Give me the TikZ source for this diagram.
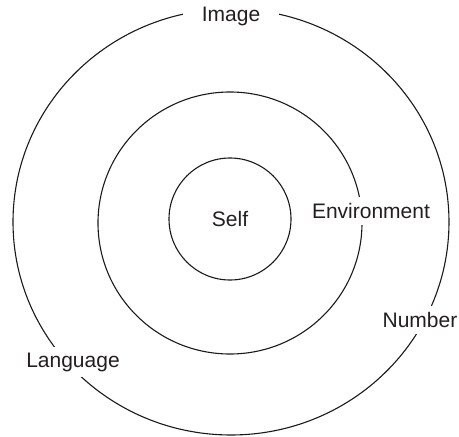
\documentclass[tikz,border=0pt]{standalone}
\usepackage{fontspec}
\setmainfont{Liberation Sans}
\definecolor{cRing}{HTML}{1A1A1A}
\definecolor{cText}{HTML}{231F20}

\begin{document}
\begin{tikzpicture}[
  x=1pt, y=-1pt,
  font=\fontsize{21}{25}\selectfont,
  ring/.style={draw=cRing, line width=1.1pt},
  ringlabel/.style={fill=white, text=cText, inner xsep=7pt, inner ysep=6pt},
]
\useasboundingbox (0,0) rectangle (459,437);

% --- rings, outermost first ---
\draw[ring] (231,222) ellipse [x radius=218, y radius=213];
\draw[ring] (230,223) ellipse [x radius=132, y radius=131];
\node[ring, circle, minimum size=122pt, inner sep=0pt, text=cText] (self)
  at (230,219) {Self};

% Labels sit on the rings and break them (white fill).
\node[ringlabel, inner xsep=19pt] (image) at (231,16) {Image};
\node[ringlabel] (environment) at (371,211) {Environment};
\node[ringlabel] (number) at (420,320) {Number};
\node[ringlabel] (language) at (73,362) {Language};

\end{tikzpicture}
\end{document}
